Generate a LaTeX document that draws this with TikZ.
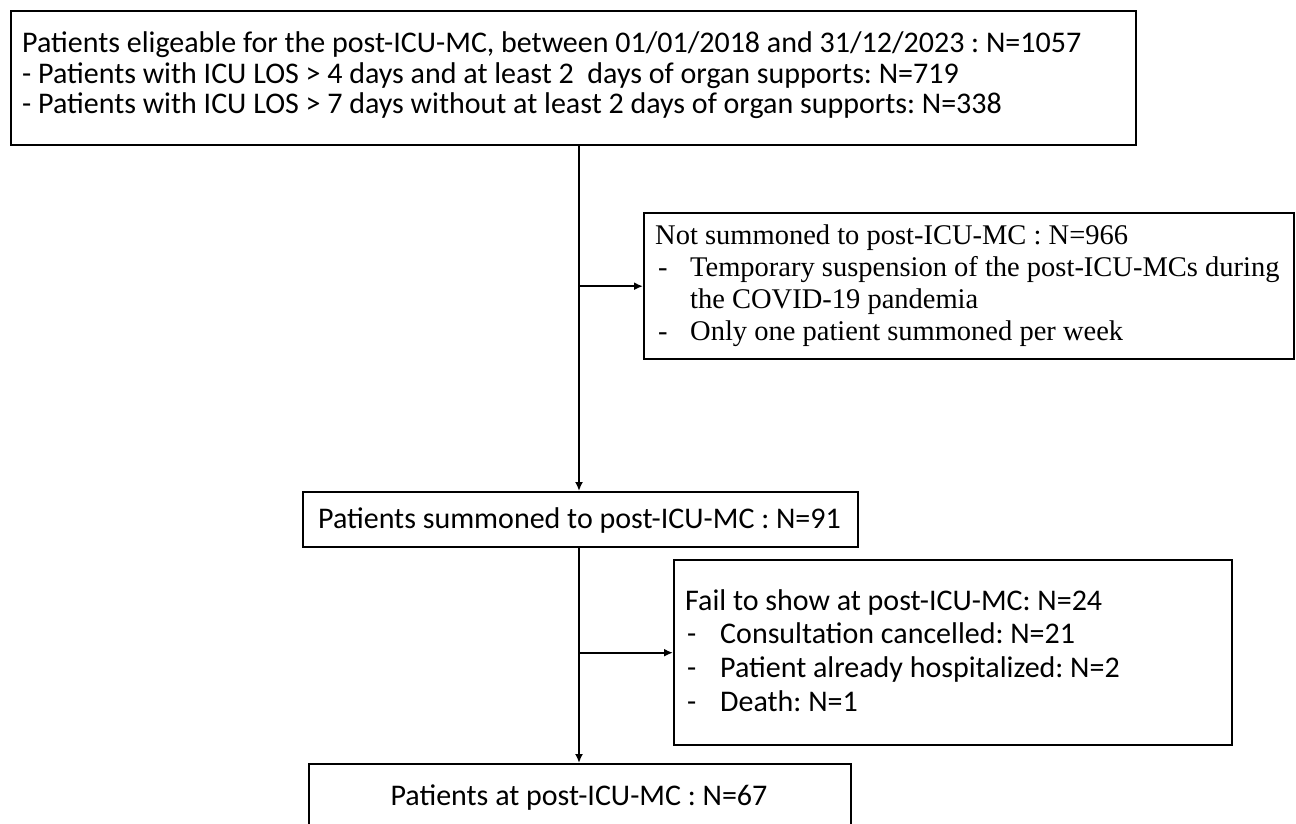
\documentclass[tikz,border=0pt]{standalone}
\usepackage{fontspec}
\setmainfont{Carlito}
\newfontfamily\timesf{Liberation Serif}
\usetikzlibrary{arrows.meta,calc}
\begin{document}
\frenchspacing
\begin{tikzpicture}[x=1pt,y=-1pt,
  box/.style={draw=black, line width=2.4pt, inner sep=0pt, anchor=north west},
  txt/.style={anchor=base west, inner sep=0pt, font=\frenchspacing\fontsize{30}{36}\selectfont},
  ctxt/.style={txt, anchor=base},
  ttxt/.style={anchor=base west, inner sep=0pt, font=\frenchspacing\timesf\fontsize{28.5}{34}\selectfont},
  conn/.style={line width=2pt, draw=black},
  arr/.style={conn, -{Latex[length=9pt,width=8pt]}}]
\useasboundingbox (0,0) rectangle (1296,823);
\clip (0,0) rectangle (1296,823);
% boxes
\node[box, minimum width=1125pt, minimum height=134pt] (topbox) at (10,10) {};
\node[box, minimum width=650pt, minimum height=146pt] (notsum) at (643,212) {};
\node[box, minimum width=555pt, minimum height=55pt] (summ) at (302,491) {};
\node[box, minimum width=558pt, minimum height=185pt] (fail) at (673,559) {};
\node[box, minimum width=542pt, minimum height=100pt] (final) at (308,763) {};
% top box text
\node[txt] (t1) at (22,52) {Patients eligeable for the post-ICU-MC, between 01/01/2018 and 31/12/2023 : N=1057};
\node[txt] (t2) at (22,83) {- Patients with ICU LOS > 4 days and at least 2\ \ days of organ supports: N=719};
\node[txt] (t3) at (22,113) {- Patients with ICU LOS > 7 days without at least 2 days of organ supports: N=338};
% not summoned text
\node[ttxt] (n1) at (655,244) {Not summoned to post-ICU-MC : N=966};
\node[ttxt] (n2d) at (658,276) {-};
\node[ttxt] (n2) at (690,276) {Temporary suspension of the post-ICU-MCs during};
\node[ttxt] (n3) at (690,308) {the COVID-19 pandemia};
\node[ttxt] (n4d) at (658,340) {-};
\node[ttxt] (n4) at (690,340) {Only one patient summoned per week};
% summoned
\node[ctxt] (s1) at (579.5,528) {Patients summoned to post-ICU-MC : N=91};
% fail
\node[txt] (f1) at (685,610) {Fail to show at post-ICU-MC: N=24};
\node[txt] (f2d) at (687,643) {-};
\node[txt] (f2) at (720,643) {Consultation cancelled: N=21};
\node[txt] (f3d) at (687,677) {-};
\node[txt] (f3) at (720,677) {Patient already hospitalized: N=2};
\node[txt] (f4d) at (687,711) {-};
\node[txt] (f4) at (720,711) {Death: N=1};
% final
\node[ctxt] (p1) at (579,805) {Patients at post-ICU-MC : N=67};
% connectors
\coordinate (trunk) at (579,0);
\draw[arr] (topbox.south -| trunk) -- (summ.north -| trunk);
\draw[arr] (trunk |- notsum.west) -- (notsum.west);
\draw[arr] (summ.south -| trunk) -- (final.north -| trunk);
\draw[arr] (trunk |- fail.west) -- (fail.west);
\end{tikzpicture}
\end{document}
